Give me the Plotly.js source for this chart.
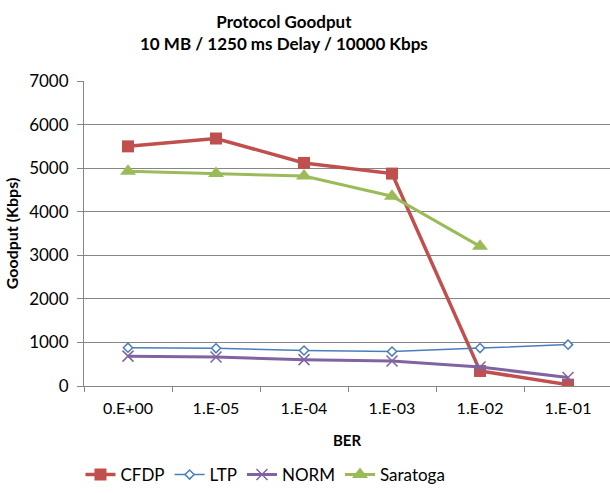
<!DOCTYPE html>
<html>
<head>
<meta charset="utf-8">
<script src="https://cdn.plot.ly/plotly-3.0.1.min.js"></script>
<style>html,body{margin:0;padding:0;background:#fff;overflow:hidden;}#chart{width:610px;height:493px;}</style>
</head>
<body>
<div id="chart"></div>
<script>
const categories = ["0.E+00", "1.E-05", "1.E-04", "1.E-03", "1.E-02", "1.E-01"];
const cfdp = [5500, 5680, 5120, 4875, 345, 30];
const ltp = [880, 865, 815, 790, 870, 950];
const norm = [685, 665, 605, 575, 435, 195];
const saratoga = [4930, 4875, 4820, 4355, 3205];
const yTicks = [0, 1000, 2000, 3000, 4000, 5000, 6000, 7000];
const titleText = "<b>Protocol Goodput<br>10 MB / 1250 ms Delay / 10000 Kbps</b>";

const FONT = "Lato, 'Open Sans', sans-serif";

const traces = [
  {name: "CFDP", x: categories, y: cfdp, type: "scatter", mode: "lines+markers",
   line: {color: "#C0504D", width: 3.5}, marker: {symbol: "square", size: 12, color: "#C0504D"}},
  {name: "LTP", x: categories, y: ltp, type: "scatter", mode: "lines+markers",
   line: {color: "#4A7EBB", width: 1.5}, marker: {symbol: "diamond", size: 7, color: "#ffffff", line: {color: "#4A7EBB", width: 1.5}}},
  {name: "NORM", x: categories, y: norm, type: "scatter", mode: "lines+markers",
   line: {color: "#8064A2", width: 3}, marker: {symbol: "x-thin", size: 11, line: {color: "#8064A2", width: 1.5}}},
  {name: "Saratoga", x: categories.slice(0, saratoga.length), y: saratoga, type: "scatter", mode: "lines+markers",
   line: {color: "#9BBB59", width: 3}, marker: {symbol: "triangle-up", size: 14, color: "#9BBB59"}}
];

const layout = {
  width: 610, height: 493,
  paper_bgcolor: "#ffffff", plot_bgcolor: "#ffffff",
  font: {family: FONT, size: 16, color: "#000000"},
  margin: {l: 84, r: 0, t: 81, b: 107, pad: 0, autoexpand: false},
  annotations: [
    {text: titleText, xref: "paper", yref: "paper", x: (284 - 84) / 526, y: 1 + (81 - 33) / 305,
     xanchor: "center", yanchor: "middle", showarrow: false,
     font: {family: FONT, size: 17, color: "#000000"}}
  ],
  xaxis: {type: "category", range: [-0.5, 5.477], tickson: "boundaries",
          ticks: "outside", ticklen: 5, tickcolor: "#868686",
          showline: true, linecolor: "#868686", linewidth: 1,
          showgrid: false, zeroline: false, automargin: false,
          ticklabelstandoff: 8,
          tickfont: {family: FONT, size: 16},
          title: {text: "<b>BER</b>", font: {family: FONT, size: 15}, standoff: 19}},
  yaxis: {range: [0, 7000], tickvals: yTicks, ticktext: yTicks.map(String),
          ticks: "outside", ticklen: 6, tickcolor: "#868686",
          showline: true, linecolor: "#868686", linewidth: 1,
          showgrid: true, gridcolor: "#868686", gridwidth: 1, zeroline: false, automargin: false,
          ticklabelstandoff: 5,
          tickfont: {family: FONT, size: 17},
          title: {text: "<b>Goodput (Kbps)</b>", font: {family: FONT, size: 16}, standoff: 6}},
  legend: {orientation: "h", x: 0.345, xanchor: "center", yref: "container", y: 0, yanchor: "bottom",
           font: {family: FONT, size: 17}, itemwidth: 30, tracegroupgap: 0, bgcolor: "rgba(0,0,0,0)"},
  showlegend: true
};

Plotly.newPlot("chart", traces, layout, {displayModeBar: false, staticPlot: true});
</script>
</body>
</html>
